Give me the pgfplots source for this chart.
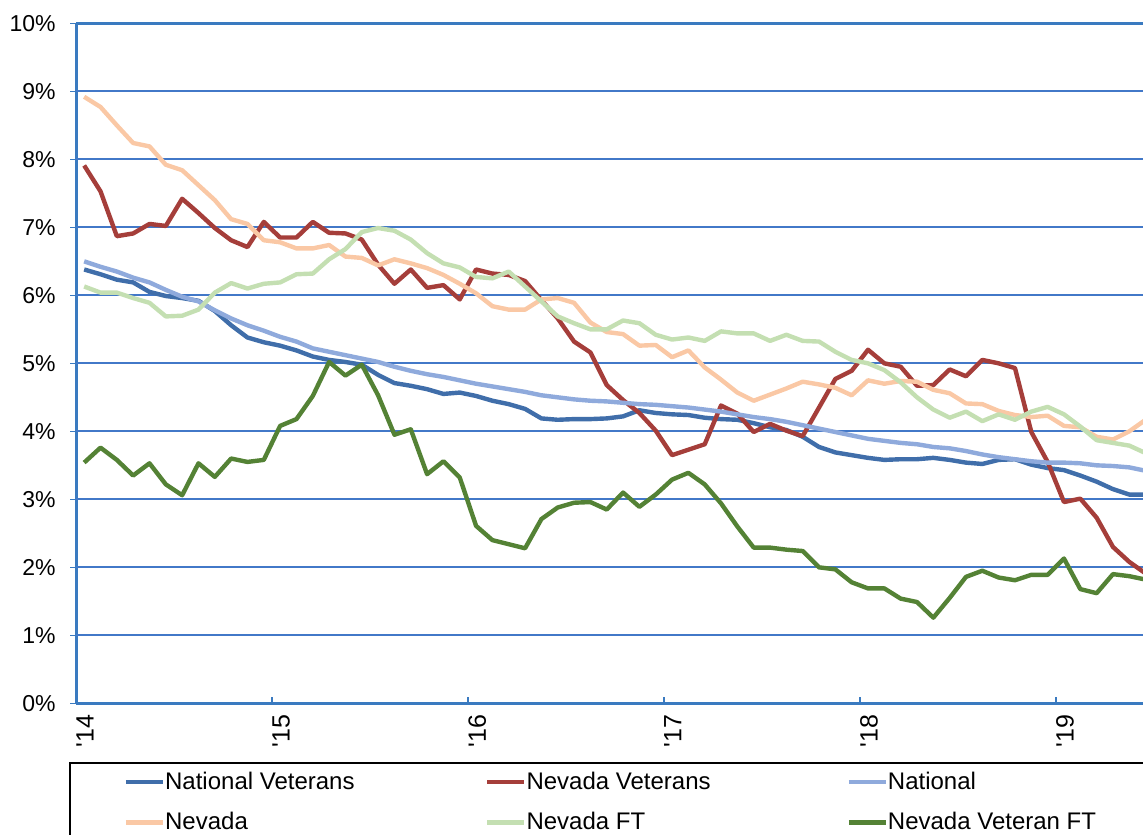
\documentclass[border=0pt]{standalone}
\usepackage{fontspec}
\setmainfont{Liberation Sans}
\usepackage{pgfplots}
\usepackage{pgfplotstable}
\pgfplotsset{compat=1.18}
\definecolor{spine}{RGB}{58,122,192}
\definecolor{gridblue}{RGB}{66,120,200}
\definecolor{cNatVet}{RGB}{64,110,170}
\definecolor{cNevVet}{RGB}{165,62,58}
\definecolor{cNat}{RGB}{143,170,220}
\definecolor{cNev}{RGB}{250,200,165}
\definecolor{cNevFT}{RGB}{196,223,178}
\definecolor{cNevVetFT}{RGB}{84,130,53}
\pgfplotstableread{
i natvet nevvet nat nev nevft nevvetft
0 6.38 7.91 6.50 8.92 6.13 3.54
1 6.31 7.53 6.42 8.77 6.04 3.76
2 6.23 6.87 6.35 8.50 6.04 3.58
3 6.19 6.91 6.26 8.24 5.96 3.35
4 6.05 7.05 6.19 8.19 5.89 3.53
5 5.99 7.02 6.08 7.92 5.69 3.22
6 5.96 7.42 5.98 7.84 5.70 3.06
7 5.92 7.21 5.91 7.62 5.79 3.53
8 5.77 6.99 5.78 7.40 6.04 3.33
9 5.56 6.81 5.66 7.12 6.18 3.60
10 5.38 6.71 5.56 7.05 6.10 3.55
11 5.31 7.08 5.48 6.81 6.17 3.58
12 5.26 6.85 5.39 6.78 6.19 4.08
13 5.19 6.85 5.32 6.69 6.31 4.18
14 5.10 7.08 5.22 6.69 6.32 4.52
15 5.05 6.92 5.17 6.74 6.53 5.02
16 5.02 6.91 5.12 6.57 6.68 4.82
17 4.98 6.82 5.07 6.55 6.93 4.98
18 4.83 6.45 5.02 6.44 6.99 4.53
19 4.71 6.17 4.95 6.53 6.95 3.95
20 4.67 6.38 4.89 6.47 6.82 4.03
21 4.62 6.11 4.84 6.40 6.62 3.37
22 4.55 6.15 4.80 6.30 6.47 3.56
23 4.57 5.94 4.75 6.17 6.41 3.32
24 4.52 6.38 4.70 6.03 6.27 2.61
25 4.45 6.32 4.66 5.84 6.25 2.40
26 4.40 6.30 4.62 5.79 6.35 2.34
27 4.33 6.21 4.58 5.79 6.13 2.28
28 4.19 5.93 4.53 5.94 5.91 2.71
29 4.17 5.66 4.50 5.96 5.69 2.88
30 4.18 5.32 4.47 5.89 5.59 2.95
31 4.18 5.16 4.45 5.60 5.50 2.96
32 4.19 4.68 4.44 5.46 5.50 2.85
33 4.22 4.46 4.42 5.43 5.63 3.10
34 4.31 4.27 4.40 5.26 5.59 2.89
35 4.27 4.01 4.39 5.27 5.42 3.07
36 4.25 3.65 4.37 5.09 5.35 3.29
37 4.24 3.73 4.35 5.19 5.38 3.39
38 4.20 3.81 4.32 4.94 5.33 3.22
39 4.18 4.38 4.29 4.76 5.47 2.94
40 4.17 4.26 4.25 4.57 5.44 2.60
41 4.12 3.99 4.21 4.45 5.44 2.29
42 4.06 4.11 4.18 4.54 5.33 2.29
43 4.02 4.01 4.14 4.63 5.42 2.26
44 3.92 3.93 4.09 4.73 5.33 2.24
45 3.77 4.35 4.04 4.69 5.32 2.00
46 3.69 4.77 3.99 4.64 5.17 1.97
47 3.65 4.89 3.94 4.53 5.05 1.78
48 3.61 5.20 3.89 4.75 5.00 1.69
49 3.58 5.00 3.86 4.70 4.90 1.69
50 3.59 4.95 3.83 4.74 4.72 1.54
51 3.59 4.67 3.81 4.73 4.50 1.49
52 3.61 4.68 3.77 4.61 4.32 1.26
53 3.58 4.91 3.75 4.56 4.20 1.55
54 3.54 4.81 3.71 4.41 4.29 1.86
55 3.52 5.05 3.66 4.40 4.15 1.95
56 3.58 5.00 3.62 4.30 4.25 1.85
57 3.59 4.93 3.59 4.24 4.17 1.81
58 3.51 3.99 3.56 4.21 4.29 1.89
59 3.46 3.55 3.54 4.23 4.36 1.89
60 3.43 2.96 3.54 4.08 4.25 2.13
61 3.35 3.01 3.53 4.06 4.07 1.68
62 3.26 2.73 3.50 3.92 3.87 1.62
63 3.15 2.30 3.49 3.88 3.83 1.90
64 3.07 2.08 3.47 4.00 3.79 1.87
65 3.07 1.91 3.42 4.17 3.68 1.82
}\datatable
\begin{document}
\begin{tikzpicture}
\path[use as bounding box] (-38pt,-65.35pt) rectangle (533.5pt,351.67pt);
\clip (-38pt,-65.35pt) rectangle (533.5pt,351.67pt);
\begin{axis}[
  at={(0pt,0pt)}, anchor=south west,
  scale only axis, width=533.5pt, height=340pt,
  xmin=-0.5, xmax=64.84, ymin=0, ymax=10,
  clip=false,
  axis x line*=bottom, axis y line*=left,
  axis line style={spine, line width=1.5pt},
  xtick={-0.5,11.5,23.5,35.5,47.5,59.5},
  xticklabels={\textquotesingle14,\textquotesingle15,\textquotesingle16,\textquotesingle17,\textquotesingle18,\textquotesingle19},
  ytick={0,1,2,3,4,5,6,7,8,9,10},
  yticklabels={0\%,1\%,2\%,3\%,4\%,5\%,6\%,7\%,8\%,9\%,10\%},
  major tick length=3pt,
  tick style={spine, line width=0.75pt},
  ytick style={xshift=-3pt},
  yticklabel style={font=\fontsize{11.5}{13}\selectfont, anchor=east, inner sep=0pt, xshift=-10pt},
  xticklabel style={font=\fontsize{12.5}{14}\selectfont, yshift=-5.5pt, rotate=90, anchor=north east, inner sep=0pt},
  legend columns=3,
  legend style={at={(0,0)}, anchor=north west, xshift=-3.5pt, yshift=-29.35pt,
    draw=black, line width=0.75pt, inner xsep=27pt, inner ysep=2.5pt, row sep=6pt,
    font=\fontsize{12}{14}\selectfont},
  legend image code/.code={\draw[#1, line cap=butt] (0pt,0pt) -- (18.5pt,0pt);},
  legend cell align=left,
  every axis plot/.append style={line width=2.2pt, mark=none, line join=round},
]
\pgfplotsinvokeforeach{1,2,3,4,5,6,7,8,9}{
  \draw[draw=gridblue, line width=1pt] (axis cs:-0.5,#1) -- (axis cs:64.84,#1);
}
\addplot[cNatVet] table[x=i, y=natvet] {\datatable};
\addlegendentry{\makebox[156pt][l]{\hspace{-2pt}National Veterans}}
\addplot[cNevVet] table[x=i, y=nevvet] {\datatable};
\addlegendentry{\makebox[156pt][l]{\hspace{-2pt}Nevada Veterans}}
\addplot[cNat] table[x=i, y=nat] {\datatable};
\addlegendentry{\makebox[156pt][l]{\hspace{-2pt}National}}
\addplot[cNev] table[x=i, y=nev] {\datatable};
\addlegendentry{\makebox[156pt][l]{\hspace{-2pt}Nevada}}
\addplot[cNevFT] table[x=i, y=nevft] {\datatable};
\addlegendentry{\makebox[156pt][l]{\hspace{-2pt}Nevada FT}}
\addplot[cNevVetFT] table[x=i, y=nevvetft] {\datatable};
\addlegendentry{\makebox[156pt][l]{\hspace{-2pt}Nevada Veteran FT}}
\draw[spine, line width=1.5pt] (rel axis cs:0,1) -- (rel axis cs:1,1);
\end{axis}
\end{tikzpicture}
\end{document}
